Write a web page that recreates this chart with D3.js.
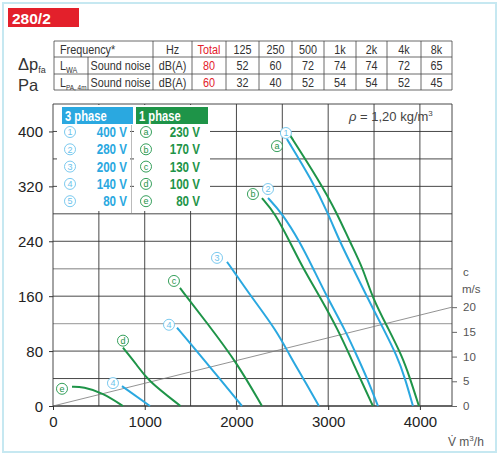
<!DOCTYPE html>
<html>
<head>
<meta charset="utf-8">
<script src="https://cdn.jsdelivr.net/npm/d3@7"></script>
<style>
  body { margin: 0; background: #fff; }
  svg { display: block; font-family: "Liberation Sans", Arial, sans-serif; }
</style>
</head>
<body>
<svg></svg>
<script>
// table data
const bands = ["125", "250", "500", "1k", "2k", "4k", "8k"];
const lwa = [52, 60, 72, 74, 74, 72, 65];
const lwaTotal = 80;
const lpa = [32, 40, 52, 54, 54, 52, 45];
const lpaTotal = 60;

// legend
const volts3 = ["400 V", "280 V", "200 V", "140 V", "80 V"];
const marks3 = ["1", "2", "3", "4", "5"];
const volts1 = ["230 V", "170 V", "130 V", "100 V", "80 V"];
const marks1 = ["a", "b", "c", "d", "e"];

// curves [m3/h, Pa]
const blue400 = [[2550, 389], [2823, 329], [2997, 281], [3128, 239], [3270, 201], [3423, 159], [3608, 111], [3750, 73], [3837, 41], [3924, 0]];
const blue280 = [[2344, 303], [2496, 281], [2692, 239], [2834, 201], [2987, 159], [3183, 111], [3314, 73], [3423, 41], [3543, 0]];
const blue200 = [[1897, 210], [1962, 198], [2147, 162], [2442, 109], [2583, 73], [2725, 41], [2899, 0]];
const blue140 = [[1352, 114], [1530, 86], [1711, 57], [2060, 0]];
const blue80 = [[752, 29], [1057, 0]];
const green230 = [[2562, 399], [2899, 329], [3096, 281], [3237, 239], [3379, 201], [3477, 159], [3662, 111], [3804, 73], [3891, 41], [3989, 0]];
const green170 = [[2278, 303], [2420, 281], [2583, 239], [2725, 201], [2910, 159], [3107, 111], [3237, 73], [3346, 41], [3488, 0]];
const green130 = [[1384, 172], [1679, 121], [2006, 63], [2278, 0]];
const green100 = [[763, 85], [916, 60], [1025, 38], [1390, 0]];
const green80 = [[207, 28], [327, 28], [545, 19], [763, 0]];

// marks written next to the curves (the 80 V curve carries a 4 in the original)
const curveMarks3 = ["1", "2", "3", "4", "4"];

// velocity line [m3/h, m/s]
const velLine = [[0, 0], [4350, 20]];

const blue = "#2aa8e0";
const blueLight = "#6cc3ec";
const green = "#1e9448";

const svg = d3.select("svg").attr("width", 500).attr("height", 457);

// condensed text: no narrow face installed, so squeeze Liberation Sans
function ntext(g, tx, ty, anchor) {
  return g.append("text")
    .attr("transform", `translate(${tx},${ty}) scale(0.8,1)`)
    .attr("text-anchor", anchor || "start");
}

// outer frame
svg.append("rect")
  .attr("x", 3).attr("y", 3).attr("width", 493).attr("height", 449)
  .attr("fill", "none").attr("stroke", "#c6e8f1").attr("stroke-width", 2);

// title
svg.append("rect").attr("x", 8).attr("y", 8).attr("width", 71).attr("height", 19).attr("fill", "#e3202b");
svg.append("text").attr("x", 12).attr("y", 23.5).attr("fill", "#fff")
  .attr("font-size", 15.5).attr("font-weight", "bold").text("280/2");

// ---- table ----
const colX = [54, 88, 153, 192, 226, 259, 292, 324, 356, 387, 421, 452];
const rowY = [41, 57, 74, 90];
const tbl = svg.append("g").attr("font-size", 13.5).attr("fill", "#333");

rowY.forEach(yy => tbl.append("line").attr("x1", 54).attr("x2", 452).attr("y1", yy).attr("y2", yy)
  .attr("stroke", "#444").attr("stroke-width", 0.8));
colX.forEach((xx, i) => tbl.append("line").attr("x1", xx).attr("x2", xx)
  .attr("y1", i === 1 ? rowY[1] : rowY[0]).attr("y2", rowY[3])
  .attr("stroke", "#444").attr("stroke-width", 0.8));

function cell(ci, ri, txt, color) {
  ntext(tbl, (colX[ci] + colX[ci + 1]) / 2, rowY[ri] + 12.5, "middle")
    .attr("fill", color || "#333")
    .text(txt);
}
ntext(tbl, 60, rowY[0] + 12.5).text("Frequency*");
cell(2, 0, "Hz");
cell(3, 0, "Total", "#e3202b");
bands.forEach((b, i) => cell(4 + i, 0, b));

const l1 = ntext(tbl, 60, rowY[1] + 12.5);
l1.append("tspan").text("L");
l1.append("tspan").attr("font-size", 9).attr("dy", 3).text("WA");
cell(1, 1, "Sound noise");
cell(2, 1, "dB(A)");
cell(3, 1, lwaTotal, "#e3202b");
lwa.forEach((v, i) => cell(4 + i, 1, v));

const l2 = ntext(tbl, 60, rowY[2] + 12.5);
l2.append("tspan").text("L");
l2.append("tspan").attr("font-size", 8).attr("dy", 3).text("PA, 4m");
cell(1, 2, "Sound noise");
cell(2, 2, "dB(A)");
cell(3, 2, lpaTotal, "#e3202b");
lpa.forEach((v, i) => cell(4 + i, 2, v));

// y axis title
const yt = svg.append("text").attr("x", 18).attr("y", 70).attr("font-size", 16.5).attr("fill", "#333");
yt.append("tspan").text("Δp");
yt.append("tspan").attr("font-size", 9).attr("dy", 3).text("fa");
svg.append("text").attr("x", 18).attr("y", 91).attr("font-size", 16.5).attr("fill", "#333").text("Pa");

// ---- scales ----
const x = d3.scaleLinear().domain([0, 4350]).range([53, 452]);
const y = d3.scaleLinear().domain([0, 440]).range([406, 104]);
const c = d3.scaleLinear().domain([0, 20]).range([y(0), y(144)]);

// grid
const grid = svg.append("g");
grid.selectAll(".hg").data(d3.range(0, 441, 40)).enter().append("line")
  .attr("x1", x(0)).attr("x2", x(4350))
  .attr("y1", d => y(d)).attr("y2", d => y(d))
  .attr("stroke", d => (d === 120 || d === 200) ? "#aaa" : "#333")
  .attr("stroke-width", d => (d === 120 || d === 200) ? 1.4 : (d === 0 ? 1.4 : 0.9));
grid.selectAll(".vg").data(d3.range(0, 4001, 500).concat([4350])).enter().append("line")
  .attr("x1", d => x(d)).attr("x2", d => x(d))
  .attr("y1", y(0)).attr("y2", y(440))
  .attr("stroke", "#333").attr("stroke-width", 0.9);

// velocity line
svg.append("path")
  .attr("d", d3.line().x(d => x(d[0])).y(d => c(d[1]))(velLine))
  .attr("fill", "none").attr("stroke", "#777").attr("stroke-width", 0.8);

// axes
const xAxis = svg.append("g").attr("transform", `translate(0,${y(0)})`)
  .call(d3.axisBottom(x).tickValues([0, 1000, 2000, 3000, 4000]).tickSize(4).tickPadding(6).tickFormat(d3.format("d")));
const yAxis = svg.append("g").attr("transform", `translate(${x(0)},0)`)
  .call(d3.axisLeft(y).tickValues(d3.range(0, 401, 80)).tickSize(4).tickPadding(6));
[xAxis, yAxis].forEach(a => {
  a.select(".domain").remove();
  a.selectAll("line").attr("stroke", "#333");
  a.selectAll("text").attr("font-size", 15).attr("fill", "#222")
    .attr("font-family", "'Liberation Sans', Arial, sans-serif");
});
yAxis.selectAll("text").attr("dy", "0.36em");

const cAxis = svg.append("g").attr("transform", `translate(${x(4350)},0)`)
  .call(d3.axisRight(c).tickValues([0, 5, 10, 15, 20]).tickSize(5).tickPadding(6));
cAxis.select(".domain").remove();
cAxis.selectAll("line").attr("stroke", "#666");
cAxis.selectAll("text").attr("font-size", 11.5).attr("fill", "#555")
  .attr("font-family", "'Liberation Sans', Arial, sans-serif");
svg.append("text").attr("x", 463).attr("y", 276).attr("font-size", 11.5).attr("fill", "#555").text("c");
svg.append("text").attr("x", 462).attr("y", 293).attr("font-size", 11.5).attr("fill", "#555").text("m/s");

const xl = svg.append("text").attr("x", 448).attr("y", 446).attr("font-size", 12).attr("fill", "#555");
xl.append("tspan").text("V̇ m");
xl.append("tspan").attr("font-size", 8).attr("dy", -5).text("3");
xl.append("tspan").attr("dy", 5).text("/h");

// density note
const rho = svg.append("text").attr("x", 349).attr("y", 121).attr("font-size", 13).attr("fill", "#444");
rho.append("tspan").attr("font-style", "italic").text("ρ");
rho.append("tspan").text(" = 1,20 kg/m");
rho.append("tspan").attr("font-size", 8).attr("dy", -5).text("3");

// ---- legend ----
const lg = svg.append("g").attr("font-weight", "bold").attr("font-size", 14.5);
lg.append("rect").attr("x", 57).attr("y", 105).attr("width", 73).attr("height", 106).attr("fill", "#fff");
lg.append("rect").attr("x", 134).attr("y", 105).attr("width", 76).attr("height", 106).attr("fill", "#fff");
lg.append("line").attr("x1", 131.5).attr("x2", 131.5).attr("y1", 125).attr("y2", 213)
  .attr("stroke", "#aaa").attr("stroke-width", 0.8);
lg.append("rect").attr("x", 62).attr("y", 107).attr("width", 71).attr("height", 17).attr("fill", blue);
lg.append("rect").attr("x", 136).attr("y", 107).attr("width", 72).attr("height", 17).attr("fill", green);
ntext(lg, 65, 121).attr("fill", "#fff").attr("font-size", 14).text("3 phase");
ntext(lg, 139, 121).attr("fill", "#fff").attr("font-size", 14).text("1 phase");

function mark(g, cx, cy, txt, color) {
  g.append("circle").attr("cx", cx).attr("cy", cy).attr("r", 5.5)
    .attr("fill", "#fff").attr("stroke", color).attr("stroke-width", 0.9);
  g.append("text").attr("x", cx).attr("y", cy + 3.2).attr("text-anchor", "middle")
    .attr("font-weight", "normal").attr("font-size", 9).attr("fill", color).text(txt);
}

volts3.forEach((v, i) => {
  const cy = 132 + i * 17.3;
  mark(lg, 70, cy, marks3[i], blueLight);
  ntext(lg, 127, cy + 5, "end").attr("fill", blue).text(v);
});
volts1.forEach((v, i) => {
  const cy = 132 + i * 17.3;
  mark(lg, 146, cy, marks1[i], green);
  ntext(lg, 200, cy + 5, "end").attr("fill", green).text(v);
});

// ---- curves ----
const line = d3.line().x(d => x(d[0])).y(d => y(d[1])).curve(d3.curveBasis);
const series = [
  { pts: green230, color: green, mark: marks1[0], off: [-11, 14] },
  { pts: green170, color: green, mark: marks1[1], off: [-9, -4] },
  { pts: green130, color: green, mark: marks1[2], off: [-6, -7] },
  { pts: green100, color: green, mark: marks1[3], off: [0, -7] },
  { pts: green80, color: green, mark: marks1[4], off: [-10, 2] },
  { pts: blue400, color: blue, mark: curveMarks3[0], off: [-1, -6], mc: blueLight },
  { pts: blue280, color: blue, mark: curveMarks3[1], off: [0, -9], mc: blueLight },
  { pts: blue200, color: blue, mark: curveMarks3[2], off: [-10, -4], mc: blueLight },
  { pts: blue140, color: blue, mark: curveMarks3[3], off: [-8, -3], mc: blueLight },
  { pts: blue80, color: blue, mark: curveMarks3[4], off: [-9, -3], mc: blueLight }
];

const cg = svg.append("g");
series.forEach(s => {
  cg.append("path").attr("d", line(s.pts))
    .attr("fill", "none").attr("stroke", s.color).attr("stroke-width", 2);
});
series.forEach(s => {
  const p = s.pts[0];
  mark(cg, x(p[0]) + s.off[0], y(p[1]) + s.off[1], s.mark, s.mc || s.color);
});
</script>
</body>
</html>
